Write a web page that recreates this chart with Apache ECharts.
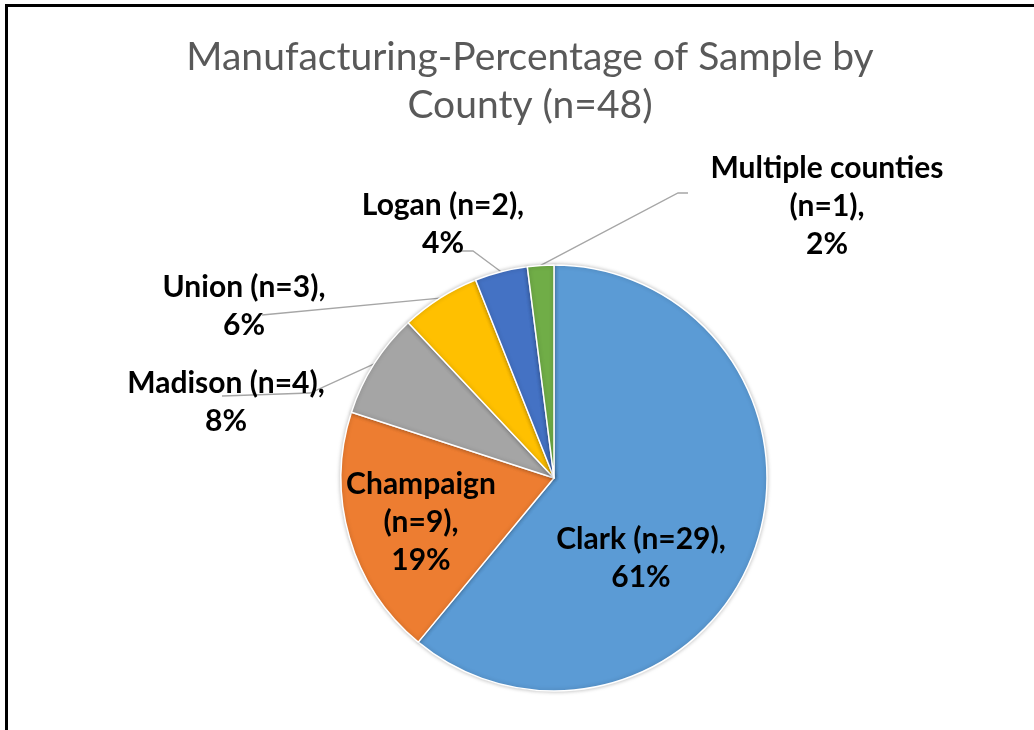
<!DOCTYPE html>
<html>
<head>
<meta charset="utf-8">
<script src="https://cdn.jsdelivr.net/npm/echarts@6/dist/echarts.min.js"></script>
<style>
    html, body {margin: 0; padding: 0; background: #fff;}
    #chart {width: 1034px; height: 730px;}
    #frame {position: absolute; left: 5px; top: 4px; width: 1100px; height: 800px;
        border-left: 3px solid #000; border-top: 3px solid #000; pointer-events: none;}
</style>
</head>
<body>
<div id="chart"></div>
<div id="frame"></div>
<script>
// counties, sample size and percent shown on the chart
let counties = ['Clark', 'Champaign', 'Madison', 'Union', 'Logan', 'Multiple counties'];
let counts = [29, 9, 4, 3, 2, 1];
let percents = [61, 19, 8, 6, 4, 2];
let colors = ['#5B9BD5', '#ED7D31', '#A5A5A5', '#FFC000', '#4472C4', '#70AD47'];

// where each label sits (text centre) and its leader line bends
let labelPos = [[641, 558], [421, 522], [226, 402], [244, 306], [443, 224], [827, 206]];
let lineBends = [null, null, [[310, 393], [222, 396]], [[262, 315], [262, 315]],
    [[473, 251], [460, 251]], [[678, 193], [688, 193]]];

let myChart = echarts.init(document.getElementById('chart'));

let pieData = counties.map(function (name, i) {
    let inside = i < 2;
    return {
        name: name,
        value: percents[i],
        itemStyle: {color: colors[i]},
        label: {position: inside ? 'inside' : 'outside'},
        labelLine: {show: !inside}
    };
});

myChart.setOption({
    title: {
        text: 'Manufacturing-Percentage of Sample by\nCounty (n=48)',
        left: 525,
        top: 28,
        textAlign: 'center',
        textStyle: {
            fontFamily: 'Lato',
            fontWeight: 'normal',
            fontSize: 39,
            lineHeight: 48,
            color: '#595959'
        }
    },
    series: [{
        type: 'pie',
        center: [554, 478],
        radius: 213,
        startAngle: 90,
        clockwise: true,
        avoidLabelOverlap: false,
        data: pieData,
        itemStyle: {
            borderColor: '#fff',
            borderWidth: 1.5,
            shadowBlur: 4,
            shadowColor: 'rgba(0,0,0,0.25)'
        },
        label: {
            fontFamily: 'Lato',
            fontWeight: 'bold',
            fontSize: 30,
            lineHeight: 38,
            color: '#000',
            align: 'center',
            formatter: function (p) {
                let i = p.dataIndex;
                let sep = (i === 1 || i === 5) ? '\n' : ' ';
                return p.name + sep + '(n=' + counts[i] + '),\n' + p.value + '%';
            }
        },
        labelLine: {
            lineStyle: {color: '#A6A6A6', width: 1.3},
            length: 20,
            length2: 20
        },
        labelLayout: function (params) {
            let i = params.dataIndex;
            let out = {
                x: labelPos[i][0],
                y: labelPos[i][1],
                align: 'center',
                verticalAlign: 'middle'
            };
            if (lineBends[i] && params.labelLinePoints) {
                out.labelLinePoints = [params.labelLinePoints[0]].concat(lineBends[i]);
            }
            return out;
        }
    }]
});
</script>
</body>
</html>
